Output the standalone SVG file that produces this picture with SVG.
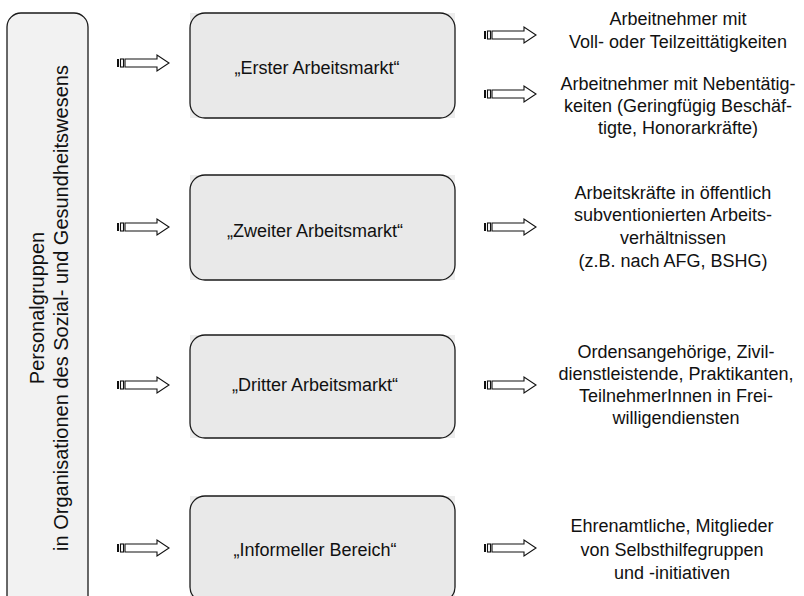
<svg xmlns="http://www.w3.org/2000/svg" width="804" height="596" viewBox="0 0 804 596">
<style>
text{font-family:"Liberation Sans",Arial,sans-serif;fill:#111}
.side{font-size:20px}
.node{font-size:18px}
.desc{font-size:18px}
.box{fill:#e9e9e9;stroke:#1a1a1a;stroke-width:1.3}
.bg{fill:#ededed}
.arr{fill:#fff;stroke:#111;stroke-width:1.1}
</style>
<defs>
<g id="arrow">
<rect x="0" y="-4" width="2" height="8" fill="#111"/>
<rect x="3.5" y="-4" width="3" height="8" class="arr"/>
<path d="M8,-4 H40 V-8 L52,0 L40,8 V4 H8 Z" class="arr"/>
</g>
</defs>
<rect width="804" height="596" fill="#fff"/>
<g id="personal">
<rect x="7" y="13" width="81" height="600" rx="14" fill="#f2f2f2" stroke="#1a1a1a" stroke-width="1.3"/>
<text class="side" text-anchor="middle" transform="translate(44,308) rotate(-90)">Personalgruppen</text>
<text class="side" text-anchor="middle" transform="translate(68,308) rotate(-90)">in Organisationen des Sozial- und Gesundheitswesens</text>
</g>
<g id="erster">
<rect class="bg" x="190" y="13" width="265" height="105"/>
<rect class="box" x="190" y="13" width="265" height="105" rx="15"/>
<text class="node" x="317" y="74" text-anchor="middle">„Erster Arbeitsmarkt“</text>
</g>
<g id="zweiter">
<rect class="bg" x="190" y="175" width="265" height="105"/>
<rect class="box" x="190" y="175" width="265" height="105" rx="15"/>
<text class="node" x="315" y="237" text-anchor="middle">„Zweiter Arbeitsmarkt“</text>
</g>
<g id="dritter">
<rect class="bg" x="190" y="335" width="265" height="103"/>
<rect class="box" x="190" y="335" width="265" height="103" rx="15"/>
<text class="node" x="315" y="391" text-anchor="middle">„Dritter Arbeitsmarkt“</text>
</g>
<g id="informell">
<rect class="bg" x="190" y="496" width="265" height="106"/>
<rect class="box" x="190" y="496" width="265" height="106" rx="15"/>
<text class="node" x="315" y="556" text-anchor="middle">„Informeller Bereich“</text>
</g>
<g id="desc1">
<text class="desc" text-anchor="middle" x="678" y="25">Arbeitnehmer mit</text>
<text class="desc" text-anchor="middle" x="678" y="48">Voll- oder Teilzeittätigkeiten</text>
</g>
<g id="desc2">
<text class="desc" text-anchor="middle" x="678" y="90">Arbeitnehmer mit Nebentätig-</text>
<text class="desc" text-anchor="middle" x="678" y="112">keiten (Geringfügig Beschäf-</text>
<text class="desc" text-anchor="middle" x="678" y="134">tigte, Honorarkräfte)</text>
</g>
<g id="desc3">
<text class="desc" text-anchor="middle" x="673" y="199">Arbeitskräfte in öffentlich</text>
<text class="desc" text-anchor="middle" x="673" y="221">subventionierten Arbeits-</text>
<text class="desc" text-anchor="middle" x="673" y="244">verhältnissen</text>
<text class="desc" text-anchor="middle" x="673" y="267">(z.B. nach AFG, BSHG)</text>
</g>
<g id="desc4">
<text class="desc" text-anchor="middle" x="676" y="358">Ordensangehörige, Zivil-</text>
<text class="desc" text-anchor="middle" x="676" y="380">dienstleistende, Praktikanten,</text>
<text class="desc" text-anchor="middle" x="676" y="402">TeilnehmerInnen in Frei-</text>
<text class="desc" text-anchor="middle" x="676" y="424">willigendiensten</text>
</g>
<g id="desc5">
<text class="desc" text-anchor="middle" x="672" y="532">Ehrenamtliche, Mitglieder</text>
<text class="desc" text-anchor="middle" x="672" y="556">von Selbsthilfegruppen</text>
<text class="desc" text-anchor="middle" x="672" y="579">und -initiativen</text>
</g>
<g id="connectors">
<use href="#arrow" x="117" y="63"/>
<use href="#arrow" x="117" y="227"/>
<use href="#arrow" x="117" y="385"/>
<use href="#arrow" x="117" y="548"/>
<use href="#arrow" x="484" y="35"/>
<use href="#arrow" x="484" y="94"/>
<use href="#arrow" x="484" y="227"/>
<use href="#arrow" x="484" y="385"/>
<use href="#arrow" x="484" y="548"/>
</g>
</svg>
